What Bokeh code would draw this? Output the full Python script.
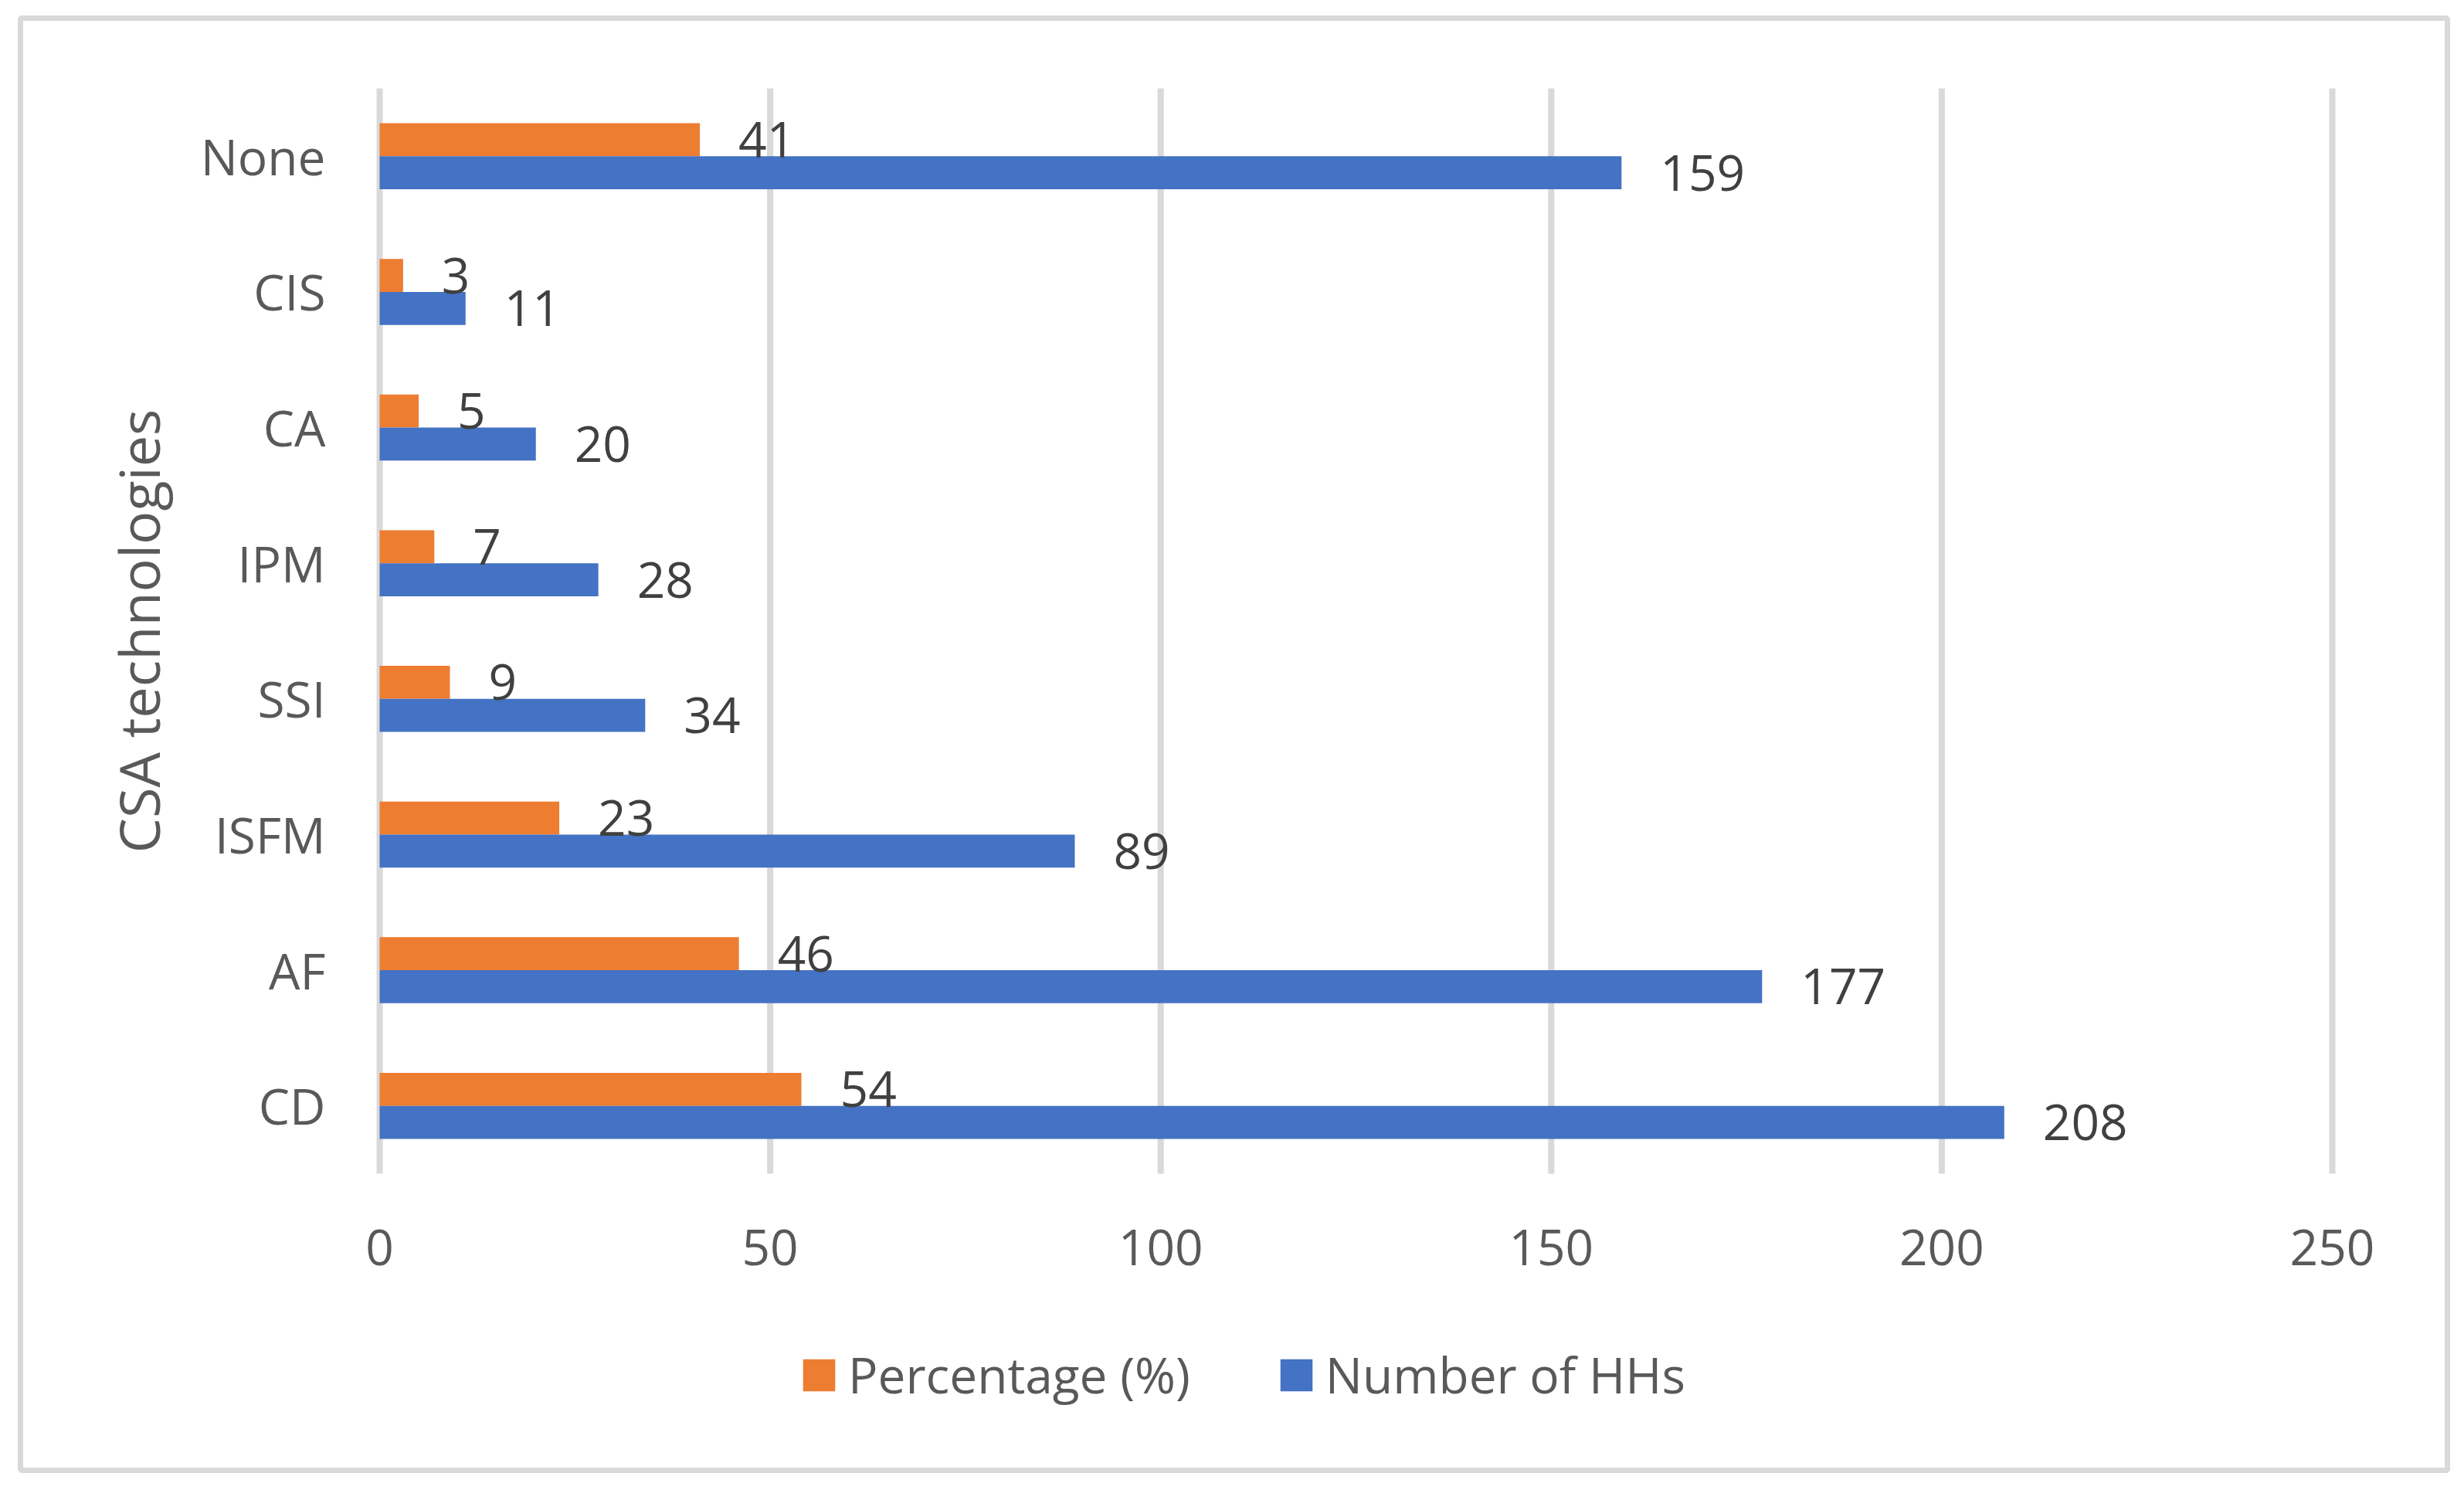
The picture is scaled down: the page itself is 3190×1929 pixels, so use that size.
from bokeh.plotting import figure
from bokeh.models import (ColumnDataSource, Range1d, FixedTicker,
                          Legend, LegendItem)
from bokeh.core.properties import value
from bokeh.embed import file_html
from bokeh.resources import INLINE

# ---- data ----
categories = ["None", "CIS", "CA", "IPM", "SSI", "ISFM", "AF", "CD"]
number_of_hhs = [159, 11, 20, 28, 34, 89, 177, 208]
percentage = [41, 3, 5, 7, 9, 23, 46, 54]
x_ticks = [0, 50, 100, 150, 200, 250]
series_names = ["Percentage (%)", "Number of HHs"]
series_colors = ["#ED7D31", "#4472C4"]
y_title = "CSA technologies"

FONT = "Open Sans"
n = len(categories)
cat_pos = [n - i for i in range(n)]          # None at top (8) ... CD at bottom (1)

off = 0.1217
bh = 0.2435
src = ColumnDataSource(dict(
    pos=cat_pos,
    pos_pct=[v + off for v in cat_pos],
    pos_hh=[v - off for v in cat_pos],
    hh=number_of_hhs,
    pct=percentage,
    hh_lbl=[str(v) for v in number_of_hhs],
    pct_lbl=[str(v) for v in percentage],
))

# ---- layout (pixels) ----
W, H = 3174, 1913
FL, FT, FR, FB = 26, 23, 3168, 1903        # frame = outer chart border
X0, X1 = 491, 3019                          # pixel of x=0 and x=250
Y_TOP, Y_BOT = 114, 1519                    # pixel of top/bottom of category band
xs = (X1 - X0) / 250.0
ys = (Y_BOT - Y_TOP) / n
x_start = (FL - X0) / xs
x_end = 250 + (FR - X1) / xs
y_start = 0.5 - (FB - Y_BOT) / ys
y_end = n + 0.5 + (Y_TOP - FT) / ys

p = figure(width=W, height=H,
           x_range=Range1d(x_start, x_end), y_range=Range1d(y_start, y_end),
           output_backend="svg", toolbar_location=None,
           min_border_left=FL, min_border_right=W - FR,
           min_border_top=FT, min_border_bottom=H - FB)
p.background_fill_color = "white"
p.border_fill_color = "white"
p.outline_line_color = "#D9D9D9"
p.outline_line_width = 7
p.grid.visible = False

# vertical gridlines
p.segment(x0=x_ticks, x1=x_ticks, y0=[0.5] * len(x_ticks), y1=[n + 0.5] * len(x_ticks),
          line_color="#D9D9D9", line_width=8)

r_pct = p.hbar(y="pos_pct", left=0, right="pct", height=bh,
               fill_color=series_colors[0], line_color=None, source=src)
r_hh = p.hbar(y="pos_hh", left=0, right="hh", height=bh,
              fill_color=series_colors[1], line_color=None, source=src)

lbl_kw = dict(x_offset=50, text_align="left", text_baseline="middle",
              text_font=value(FONT), text_font_size="64px", text_color="#404040",
              source=src)
p.text(x="pct", y="pos_pct", text="pct_lbl", **lbl_kw)
p.text(x="hh", y="pos_hh", text="hh_lbl", **lbl_kw)

# axes (drawn at fixed data locations inside the bordered frame)
xa = p.xaxis[0]
ya = p.yaxis[0]
xa.fixed_location = 0.5
ya.fixed_location = 0
xa.bounds = (0, 250)
ya.bounds = (0.5, n + 0.5)
xa.ticker = FixedTicker(ticks=x_ticks)
ya.ticker = FixedTicker(ticks=cat_pos)
ya.major_label_overrides = {pv: c for pv, c in zip(cat_pos, categories)}
for ax in (xa, ya):
    ax.axis_line_color = None
    ax.major_tick_line_color = None
    ax.minor_tick_line_color = None
    ax.major_tick_out = 0
    ax.major_tick_in = 0
    ax.minor_tick_out = 0
    ax.minor_tick_in = 0
    ax.major_label_text_font = FONT
    ax.major_label_text_font_size = "64px"
    ax.major_label_text_color = "#595959"
xa.major_label_standoff = 72
ya.major_label_standoff = 70
ya.axis_label = y_title
ya.axis_label_text_font = FONT
ya.axis_label_text_font_size = "72px"
ya.axis_label_text_font_style = "normal"
ya.axis_label_text_color = "#595959"
ya.axis_label_standoff = 29

# legend (bar legend glyphs are drawn at 80% of the glyph box)
legend = Legend(items=[LegendItem(label=series_names[0], renderers=[r_pct]),
                       LegendItem(label=series_names[1], renderers=[r_hh])],
                orientation="horizontal", location=(1034 - FL, 80),
                glyph_width=52, glyph_height=52, label_standoff=12, spacing=111,
                padding=0, margin=0, border_line_color=None,
                background_fill_alpha=0,
                label_text_font=FONT, label_text_font_size="64px",
                label_text_color="#595959")
p.add_layout(legend)

open("out.html", "w").write(file_html(p, INLINE))
